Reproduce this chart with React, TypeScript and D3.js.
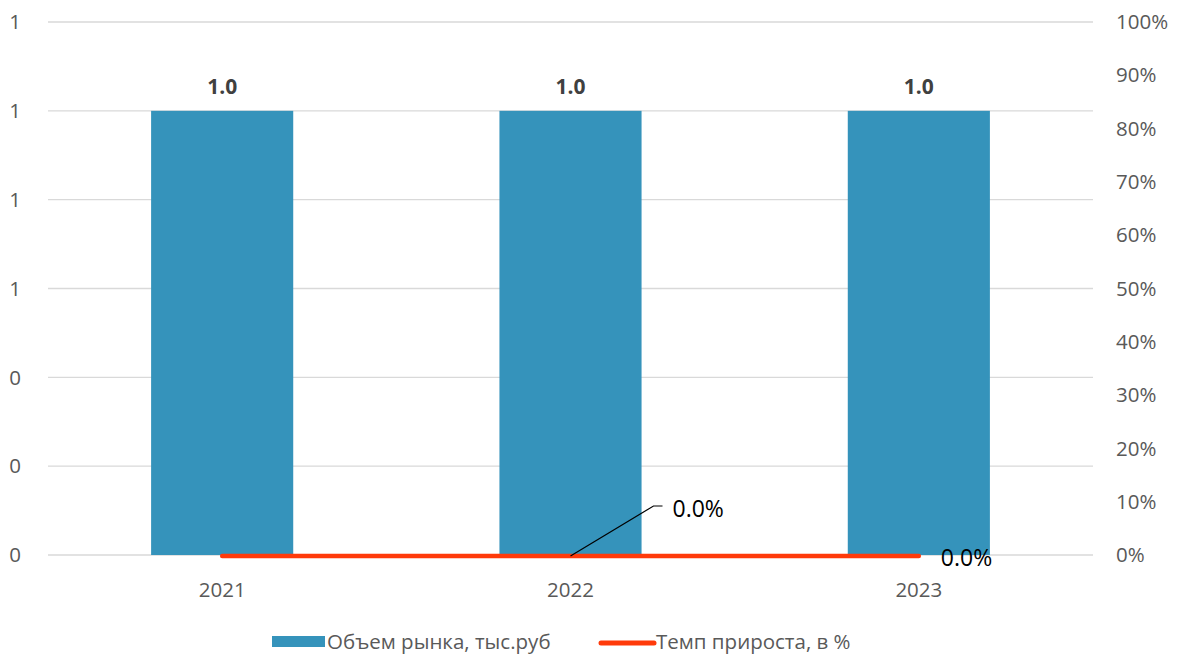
import React, {useEffect, useRef} from 'react';
import * as d3 from 'd3';

// chart data
const years: string[] = ['2021', '2022', '2023'];
const volume: number[] = [1.0, 1.0, 1.0];
const growth: number[] = [0, 0, 0];
const leftTicks: number[] = [0, 0.2, 0.4, 0.6, 0.8, 1.0, 1.2];
const rightTicks: number[] = [0, 0.1, 0.2, 0.3, 0.4, 0.5, 0.6, 0.7, 0.8, 0.9, 1.0];
const legendNames: string[] = ['Объем рынка, тыс.руб', 'Темп прироста, в %'];

const App = () => {
  const ref = useRef<SVGSVGElement>(null);

  useEffect(() => {
    drawChart();
    return () => {
      d3.select(ref.current).selectAll('*').remove();
    };
  }, []);

  const drawChart = () => {
    const width = 1188;
    const height = 660;
    const margin = {top: 22, right: 95, bottom: 105, left: 48};
    const font = 'Open Sans, Lato, sans-serif';
    const barColor = '#3593BB';
    const lineColor = '#FF3A0A';
    const axisSize = '20.5px';

    const svg = d3.select(ref.current)
      .attr('width', width)
      .attr('height', height)
      .style('font-family', font);

    const x = d3.scaleBand<string>()
      .domain(years)
      .range([margin.left, width - margin.right])
      .paddingInner(0.592)
      .paddingOuter(0.296);

    const y = d3.scaleLinear()
      .domain([0, 1.2])
      .range([height - margin.bottom, margin.top]);

    const y2 = d3.scaleLinear()
      .domain([0, 1])
      .range([height - margin.bottom, margin.top]);

    // gridlines
    svg.append('g')
      .selectAll('line')
      .data(leftTicks)
      .enter().append('line')
      .attr('x1', margin.left)
      .attr('x2', width - margin.right)
      .attr('y1', d => y(d))
      .attr('y2', d => y(d))
      .attr('stroke', '#d9d9d9')
      .attr('stroke-width', 1.3);

    // left axis labels (rounded like the original)
    svg.append('g')
      .selectAll('text')
      .data(leftTicks)
      .enter().append('text')
      .attr('x', 21)
      .attr('y', d => y(d))
      .attr('dy', '0.35em')
      .attr('text-anchor', 'end')
      .attr('fill', '#595959')
      .style('font-size', axisSize)
      .text(d => d3.format('.0f')(d));

    // right axis labels
    svg.append('g')
      .selectAll('text')
      .data(rightTicks)
      .enter().append('text')
      .attr('x', 1116)
      .attr('y', d => y2(d))
      .attr('dy', '0.35em')
      .attr('fill', '#595959')
      .style('font-size', axisSize)
      .text(d => d3.format('.0%')(d));

    // category labels
    svg.append('g')
      .selectAll('text')
      .data(years)
      .enter().append('text')
      .attr('x', d => (x(d) as number) + x.bandwidth() / 2)
      .attr('y', height - margin.bottom + 42)
      .attr('text-anchor', 'middle')
      .attr('fill', '#595959')
      .style('font-size', axisSize)
      .text(d => d);

    // bars
    svg.append('g')
      .selectAll('rect')
      .data(volume)
      .enter().append('rect')
      .attr('x', (d, i) => x(years[i]) as number)
      .attr('y', d => y(d))
      .attr('width', x.bandwidth())
      .attr('height', d => y(0) - y(d))
      .attr('fill', barColor);

    // bar labels
    svg.append('g')
      .selectAll('text')
      .data(volume)
      .enter().append('text')
      .attr('x', (d, i) => (x(years[i]) as number) + x.bandwidth() / 2)
      .attr('y', d => y(d) - 17)
      .attr('text-anchor', 'middle')
      .attr('fill', '#404040')
      .style('font-size', '21px')
      .style('font-weight', 'bold')
      .text(d => d3.format('.1f')(d));

    // growth line
    const cx = (i: number) => (x(years[i]) as number) + x.bandwidth() / 2;
    const line = d3.line<number>()
      .x((d, i) => cx(i))
      .y(d => y2(d) + 1);

    svg.append('path')
      .datum(growth)
      .attr('d', line)
      .attr('fill', 'none')
      .attr('stroke', lineColor)
      .attr('stroke-width', 4.5)
      .attr('stroke-linecap', 'round');

    // line labels: 2022 with leader line, 2023 next to the point
    const lx = cx(1);
    const ly = y2(growth[1]) + 1;
    svg.append('path')
      .attr('d', `M${lx},${ly} L${lx + 83},${ly - 50} H${lx + 92}`)
      .attr('fill', 'none')
      .attr('stroke', '#000')
      .attr('stroke-width', 1.2);
    svg.append('text')
      .attr('x', lx + 102)
      .attr('y', ly - 39)
      .attr('fill', '#000')
      .style('font-size', '23px')
      .text(d3.format('.1%')(growth[1]));

    svg.append('text')
      .attr('x', cx(2) + 22)
      .attr('y', y2(growth[2]) + 11)
      .attr('fill', '#000')
      .style('font-size', '23px')
      .text(d3.format('.1%')(growth[2]));

    // legend
    const leg = svg.append('g');
    leg.append('rect')
      .attr('x', 272)
      .attr('y', 636)
      .attr('width', 53)
      .attr('height', 11)
      .attr('fill', barColor);
    leg.append('text')
      .attr('x', 327)
      .attr('y', 642)
      .attr('dy', '0.35em')
      .attr('fill', '#595959')
      .style('font-size', axisSize)
      .text(legendNames[0]);
    leg.append('line')
      .attr('x1', 601)
      .attr('x2', 654)
      .attr('y1', 643)
      .attr('y2', 643)
      .attr('stroke', lineColor)
      .attr('stroke-width', 5)
      .attr('stroke-linecap', 'round');
    leg.append('text')
      .attr('x', 656)
      .attr('y', 642)
      .attr('dy', '0.35em')
      .attr('fill', '#595959')
      .style('font-size', axisSize)
      .text(legendNames[1]);
  };

  return (
    <svg ref={ref} style={{position: 'absolute', left: 0, top: 0}}></svg>
  );
};

export default App;
